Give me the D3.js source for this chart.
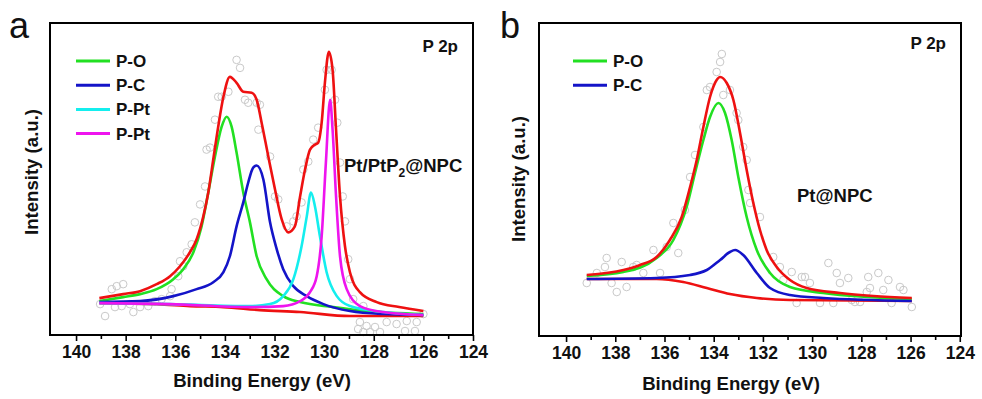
<!DOCTYPE html>
<html>
<head>
<meta charset="utf-8">
<script src="https://cdn.jsdelivr.net/npm/d3@7"></script>
<style>
  body { margin: 0; background: #fff; }
  svg { display: block; font-family: "Liberation Sans", Arial, sans-serif; }
</style>
</head>
<body>
<svg id="chart" width="982" height="399"></svg>
<script>
// x ticks (binding energy, eV)
const majorTicks = [140, 138, 136, 134, 132, 130, 128, 126, 124];
const minorTicks = [139, 137, 135, 133, 131, 129, 127, 125];

// ---- panel a : Pt/PtP2@NPC ----  [eV, intensity a.u.]
const aEnvelope = [[139.06,37],[138.1,41],[137.42,44],[136.75,51],[136.21,59],[135.81,69],[135.41,83],[135.14,96],[134.87,119],[134.67,143],[134.47,176],[134.27,209],[134.06,239],[133.8,259],[133.53,253],[133.26,244],[132.92,243],[132.72,236],[132.52,213],[132.25,179],[131.98,146],[131.71,116],[131.45,103],[131.18,109],[130.97,139],[130.77,166],[130.57,186],[130.37,191],[130.24,193],[130.1,213],[129.97,253],[129.81,284],[129.66,266],[129.52,206],[129.36,139],[129.16,89],[128.96,63],[128.56,43],[127.88,33],[126.98,28],[126.0,24]];
const aPO = [[139.06,34],[138.1,38],[137.42,41],[136.75,46],[136.08,56],[135.68,66],[135.27,83],[134.94,109],[134.67,143],[134.4,179],[134.13,209],[133.93,219],[133.73,209],[133.53,183],[133.26,143],[132.99,113],[132.72,79],[132.32,56],[131.65,39],[130.97,33],[129.63,28],[128.29,24],[126.0,21]];
const aPC = [[139.06,33],[137.42,34],[136.08,39],[135.14,46],[134.47,53],[134.06,63],[133.8,79],[133.53,109],[133.26,133],[133.06,153],[132.86,168],[132.72,170],[132.45,156],[132.18,113],[131.91,86],[131.65,66],[131.24,49],[130.7,39],[130.03,31],[128.96,24],[127.62,21],[126.0,20]];
const aPPt1 = [[139.06,32],[136.21,31],[133.0,29],[132.18,31],[131.65,39],[131.24,56],[130.91,89],[130.7,119],[130.53,143],[130.37,129],[130.17,99],[129.9,63],[129.49,39],[128.96,29],[127.62,23],[126.0,20]];
const aPPt2 = [[139.06,32],[136.21,31],[133.0,28],[131.65,29],[130.97,34],[130.57,43],[130.3,59],[130.1,99],[129.93,173],[129.76,236],[129.66,206],[129.52,139],[129.36,79],[129.09,46],[128.56,29],[127.62,23],[126.0,20]];
const aBackground = [[139.06,32],[136.75,31],[135.41,29],[134.06,28],[132.59,25],[130.97,23],[128.96,19],[127.62,19],[126.0,19]];
const aRaw = [[139.03,31],[138.83,19],[138.56,46],[138.36,49],[138.1,51],[138.43,28],[138.16,29],[137.83,31],[137.69,23],[137.42,28],[137.09,29],[136.82,34],[136.55,36],[136.21,39],[136.15,46],[135.88,59],[135.81,74],[135.68,69],[135.54,83],[135.34,91],[135.21,113],[135.0,131],[134.8,149],[134.74,186],[134.6,188],[134.4,216],[134.27,239],[134.13,239],[133.86,244],[133.53,276],[133.39,268],[133.19,236],[133.06,233],[132.72,233],[132.59,231],[132.65,206],[132.18,179],[131.98,139],[131.85,136],[131.51,109],[131.24,114],[131.11,119],[130.91,133],[130.84,166],[130.64,174],[130.44,196],[130.24,208],[129.97,246],[129.9,266],[129.7,266],[129.56,236],[129.47,213],[129.36,173],[129.25,139],[129.16,114],[129.03,76],[128.96,56],[128.83,36],[128.42,29],[128.56,13],[128.29,9],[127.95,8],[127.48,13],[127.08,11],[126.67,14],[126.27,13],[126.0,21],[128.63,6],[128.42,3],[128.15,3],[127.75,3],[126.74,4],[126.34,4]];

// ---- panel b : Pt@NPC ----
const bEnvelope = [[139.16,61],[137.67,66],[136.99,71],[136.32,79],[135.78,96],[135.3,119],[134.96,149],[134.69,176],[134.42,209],[134.15,239],[133.88,256],[133.74,259],[133.47,253],[133.2,236],[132.93,203],[132.66,166],[132.39,133],[132.12,106],[131.85,86],[131.44,69],[130.9,56],[130.22,48],[128.87,43],[127.51,40],[125.95,38]];
const bPO = [[139.16,60],[137.67,64],[136.32,78],[135.64,96],[135.1,129],[134.76,163],[134.42,196],[134.15,219],[133.81,233],[133.54,223],[133.27,196],[133.0,159],[132.66,119],[132.25,86],[131.71,63],[130.9,49],[129.55,43],[125.95,37]];
const bPC = [[139.16,57],[136.32,58],[134.96,61],[134.28,66],[133.74,76],[133.34,84],[133.13,86],[132.8,81],[132.25,63],[131.71,48],[130.9,41],[129.55,38],[125.95,35]];
const bBackground = [[139.16,57],[136.32,57],[135.24,54],[134.28,48],[133.34,42],[132.25,38],[130.9,36],[125.95,35]];
const bRaw = [[139.16,53],[138.75,63],[138.42,69],[138.35,78],[138.15,53],[137.94,44],[137.74,74],[137.54,49],[137.27,69],[137.13,71],[136.86,63],[136.45,86],[136.18,63],[135.91,89],[135.64,113],[135.44,83],[135.17,126],[134.96,159],[134.76,181],[134.42,209],[134.28,246],[134.15,249],[133.88,264],[133.74,274],[133.67,282],[133.61,241],[133.34,246],[133.07,223],[133.0,216],[132.8,189],[132.66,176],[132.59,146],[132.52,133],[132.12,119],[131.58,79],[131.31,69],[131.17,56],[130.83,64],[130.63,33],[130.42,59],[130.29,59],[130.09,53],[129.68,33],[129.34,73],[129.14,33],[129.0,63],[128.87,53],[128.53,58],[128.39,36],[128.26,34],[128.05,34],[127.78,44],[127.72,59],[127.65,48],[127.31,63],[127.11,46],[126.9,56],[126.77,33],[126.43,49],[126.29,46],[125.95,29]];

const legendA = ["P-O", "P-C", "P-Pt", "P-Pt"];
const legendB = ["P-O", "P-C"];

const colors = { red: "#ee1111", green: "#22e022", blue: "#1414c8", cyan: "#14eeee", magenta: "#ee14ee" };

const svg = d3.select("#chart");

function drawPanel(p) {
    const x = d3.scaleLinear().domain(p.xDomain).range([p.left, p.right]);
    const y = d3.scaleLinear().domain([0, 313]).range([p.bottom, p.top]);
    const g = svg.append("g");

    // raw data points
    g.selectAll("circle.raw")
        .data(p.raw)
        .enter()
        .append("circle")
        .attr("cx", d => x(d[0]))
        .attr("cy", d => y(d[1]))
        .attr("r", 3.8)
        .attr("fill", "none")
        .attr("stroke", "#c9c9c9")
        .attr("stroke-width", 1);

    const line = d3.line()
        .x(d => x(d[0]))
        .y(d => y(d[1]))
        .curve(d3.curveMonotoneX);

    p.series.forEach(s => {
        g.append("path")
            .attr("d", line(s.data))
            .attr("fill", "none")
            .attr("stroke", s.color)
            .attr("stroke-width", 2.6)
            .attr("stroke-linejoin", "round");
    });

    // frame
    g.append("rect")
        .attr("x", p.left).attr("y", p.top)
        .attr("width", p.right - p.left).attr("height", p.bottom - p.top)
        .attr("fill", "none").attr("stroke", "#000").attr("stroke-width", 2);

    // x axis
    const major = g.append("g")
        .attr("transform", `translate(0,${p.bottom})`)
        .call(d3.axisBottom(x).tickValues(majorTicks).tickSize(6).tickPadding(5).tickFormat(d3.format("d")));
    const minor = g.append("g")
        .attr("transform", `translate(0,${p.bottom})`)
        .call(d3.axisBottom(x).tickValues(minorTicks).tickSize(4).tickFormat(""));
    [major, minor].forEach(ax => {
        ax.select(".domain").remove();
        ax.selectAll("line").attr("stroke", "#000").attr("stroke-width", 1.6);
    });
    major.selectAll("text")
        .attr("fill", "#111")
        .style("font-size", "17.5px")
        .style("font-weight", "bold")
        .style("font-family", "'Liberation Sans', Arial, sans-serif");

    g.append("text")
        .attr("x", p.xTitleX).attr("y", p.xTitleY)
        .attr("text-anchor", "middle")
        .style("font-size", "18.6px").style("font-weight", "bold").attr("fill", "#111")
        .text("Binding Energy (eV)");

    g.append("text")
        .attr("transform", `translate(${p.yTitleX},${p.yTitleY}) rotate(-90)`)
        .attr("text-anchor", "middle")
        .style("font-size", "18.6px").style("font-weight", "bold").attr("fill", "#111")
        .text("Intensity (a.u.)");

    g.append("text")
        .attr("x", p.letterX).attr("y", 38)
        .style("font-size", "36px").attr("fill", "#111")
        .text(p.letter);

    g.append("text")
        .attr("x", p.right - 15).attr("y", p.p2pY)
        .attr("text-anchor", "end")
        .style("font-size", "17px").style("font-weight", "bold").attr("fill", "#111")
        .text("P 2p");

    // legend
    p.legend.forEach((name, i) => {
        const ly = 61 + i * 24.2;
        g.append("line")
            .attr("x1", p.legendX).attr("x2", p.legendX + 34)
            .attr("y1", ly).attr("y2", ly)
            .attr("stroke", p.series[i + 1].color).attr("stroke-width", 3);
        g.append("text")
            .attr("x", p.legendX + 40).attr("y", ly + 6)
            .style("font-size", "17px").style("font-weight", "bold").attr("fill", "#111")
            .text(name);
    });

    // sample label
    const lab = g.append("text")
        .attr("x", p.sampleX).attr("y", p.sampleY)
        .style("font-size", "18.5px").style("font-weight", "bold").attr("fill", "#111");
    p.sample(lab);
}

drawPanel({
    left: 50, right: 473, top: 23, bottom: 335,
    xDomain: [141.05, 124],
    raw: aRaw,
    series: [
        { data: aBackground, color: colors.red },
        { data: aPO, color: colors.green },
        { data: aPC, color: colors.blue },
        { data: aPPt1, color: colors.cyan },
        { data: aPPt2, color: colors.magenta },
        { data: aEnvelope, color: colors.red }
    ],
    legend: legendA, legendX: 76,
    xTitleX: 262, xTitleY: 387,
    yTitleX: 38, yTitleY: 172,
    letter: "a", letterX: 9, p2pY: 52,
    sampleX: 344, sampleY: 172,
    sample: t => {
        t.append("tspan").text("Pt/PtP");
        t.append("tspan").attr("dy", 5).style("font-size", "12px").text("2");
        t.append("tspan").attr("dy", -5).text("@NPC");
    }
});

drawPanel({
    left: 539, right: 961, top: 23, bottom: 336,
    xDomain: [141.1, 123.95],
    raw: bRaw,
    series: [
        { data: bBackground, color: colors.red },
        { data: bPO, color: colors.green },
        { data: bPC, color: colors.blue },
        { data: bEnvelope, color: colors.red }
    ],
    legend: legendB, legendX: 573,
    xTitleX: 731, xTitleY: 390,
    yTitleX: 525, yTitleY: 179,
    letter: "b", letterX: 500, p2pY: 49,
    sampleX: 797, sampleY: 202,
    sample: t => t.text("Pt@NPC")
});
</script>
</body>
</html>
